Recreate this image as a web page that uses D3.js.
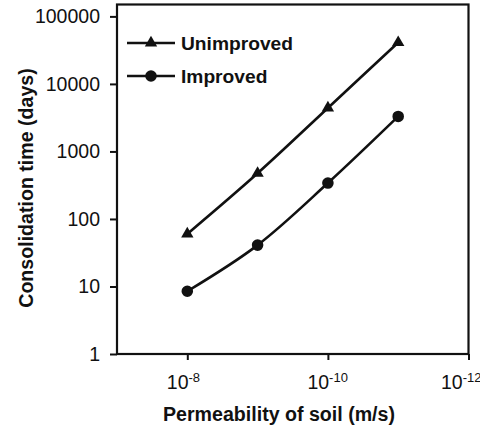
<!DOCTYPE html>
<html>
<head>
<meta charset="utf-8">
<script src="https://cdn.jsdelivr.net/npm/d3@7"></script>
<style>
  body { margin: 0; background: white; }
  svg { display: block; font-family: "Liberation Sans", Arial, sans-serif; }
</style>
</head>
<body>
<div id="container"></div>
<script>
// permeability of soil (m/s)
const permeability = [1e-8, 1e-9, 1e-10, 1e-11];
const unimproved = [60, 475, 4400, 41000];
const improved = [8.5, 41, 340, 3300];

const yTicks = [1, 10, 100, 1000, 10000, 100000];
const xTickExps = [-8, -10, -12];

const series = [
  { name: "Unimproved", values: unimproved, symbol: d3.symbolTriangle, size: 66 },
  { name: "Improved", values: improved, symbol: d3.symbolCircle, size: 105 },
];

const w = 480;
const h = 430;
const plotLeft = 117;
const plotRight = 468.5;
const plotTop = 4.5;
const plotBottom = 354;

const svg = d3
  .select("#container")
  .append("svg")
  .attr("width", w)
  .attr("height", h)
  .attr("viewBox", `0 0 ${w} ${h}`);

const xScale = d3.scaleLog().domain([1e-7, 1e-12]).range([plotLeft, plotRight]);
const yScale = d3.scaleLog().domain([1, 1.5e5]).range([plotBottom, plotTop]);

// frame
svg
  .append("rect")
  .attr("x", plotLeft)
  .attr("y", plotTop)
  .attr("width", plotRight - plotLeft)
  .attr("height", plotBottom - plotTop)
  .attr("fill", "none")
  .attr("stroke", "#111")
  .attr("stroke-width", 2.2);

const yAxis = d3
  .axisLeft(yScale)
  .tickValues(yTicks)
  .tickFormat((d) => String(d))
  .tickSize(7)
  .tickPadding(10);

const gy = svg
  .append("g")
  .attr("transform", `translate(${plotLeft}, 0)`)
  .call(yAxis);
gy.select(".domain").remove();
gy.selectAll("line").attr("stroke", "#111").attr("stroke-width", 2);
gy.selectAll("text")
  .attr("font-size", 19.5)
  .attr("font-family", "Liberation Sans, Arial, sans-serif")
  .attr("fill", "#111");

const xAxis = d3
  .axisBottom(xScale)
  .tickValues(xTickExps.map((e) => Math.pow(10, e)))
  .tickFormat(() => "")
  .tickSize(6)
  .tickPadding(10);

const gx = svg
  .append("g")
  .attr("transform", `translate(0, ${plotBottom})`)
  .call(xAxis);
gx.select(".domain").remove();
gx.selectAll("line").attr("stroke", "#111").attr("stroke-width", 2);
gx.selectAll(".tick text")
  .attr("font-size", 19.5)
  .attr("font-family", "Liberation Sans, Arial, sans-serif")
  .attr("fill", "#111")
  .attr("text-anchor", "start")
  .attr("x", -21)
  .attr("y", 35)
  .attr("dy", null)
  .each(function (d, i) {
    const t = d3.select(this);
    t.append("tspan").text("10");
    t.append("tspan")
      .attr("font-size", 13)
      .attr("dy", -7)
      .text("-" + -xTickExps[i]);
  });
// the last label sits at the right edge
gx.selectAll(".tick text").filter((d, i) => i === xTickExps.length - 1).attr("x", -28);

// series lines + markers
const line = d3
  .line()
  .x((d) => xScale(d[0]))
  .y((d) => yScale(d[1]))
  .curve(d3.curveCatmullRom.alpha(0.5));

series.forEach((s) => {
  const pts = permeability.map((p, i) => [p, s.values[i]]);
  svg
    .append("path")
    .datum(pts)
    .attr("d", line)
    .attr("fill", "none")
    .attr("stroke", "#111")
    .attr("stroke-width", 2.6);

  svg
    .selectAll(null)
    .data(pts)
    .enter()
    .append("path")
    .attr("transform", (d) => `translate(${xScale(d[0])}, ${yScale(d[1])})`)
    .attr("d", d3.symbol().type(s.symbol).size(s.size))
    .attr("fill", "#111");
});

// legend
const legend = svg.append("g").attr("transform", "translate(127, 43)");
series.forEach((s, i) => {
  const g = legend.append("g").attr("transform", `translate(0, ${i * 33})`);
  g.append("line")
    .attr("x1", 0)
    .attr("x2", 48)
    .attr("stroke", "#111")
    .attr("stroke-width", 2.6);
  g.append("path")
    .attr("transform", "translate(24, 0)")
    .attr("d", d3.symbol().type(s.symbol).size(s.size))
    .attr("fill", "#111");
  g.append("text")
    .attr("x", 54)
    .attr("y", 7)
    .attr("font-size", 19.2)
    .attr("font-weight", "bold")
    .attr("fill", "#111")
    .text(s.name);
});

// axis titles
svg
  .append("text")
  .attr("x", 279)
  .attr("y", 421)
  .attr("text-anchor", "middle")
  .attr("font-size", 19.6)
  .attr("font-weight", "bold")
  .attr("fill", "#111")
  .text("Permeability of soil (m/s)");

svg
  .append("text")
  .attr("text-anchor", "middle")
  .attr("transform", `translate(33, 188) rotate(-90)`)
  .attr("font-size", 19.6)
  .attr("font-weight", "bold")
  .attr("fill", "#111")
  .text("Consolidation time (days)");
</script>
</body>
</html>
